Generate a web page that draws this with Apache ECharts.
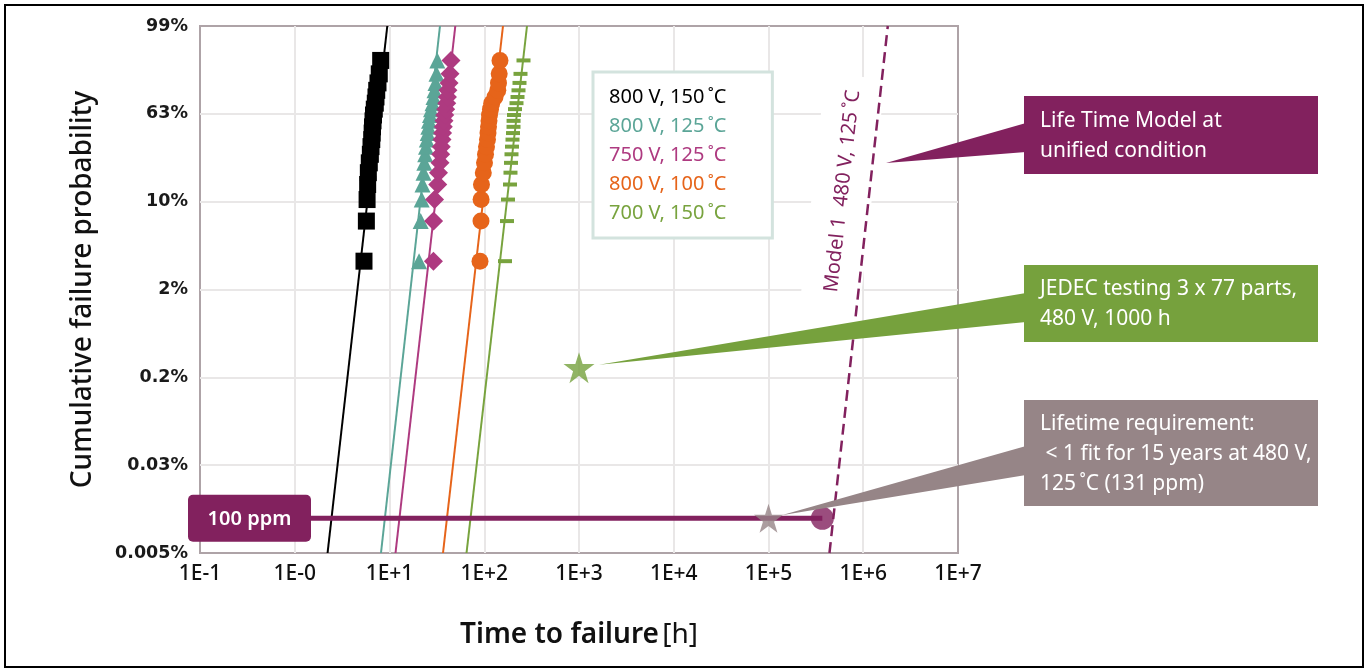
<!DOCTYPE html>
<html>
<head>
<meta charset="utf-8">
<script src="https://cdn.jsdelivr.net/npm/echarts@6.0.0/dist/echarts.min.js"></script>
<style>
  html, body { margin: 0; padding: 0; background: #fff; }
  #chart { width: 1368px; height: 671px; }
</style>
</head>
<body>
<div id="chart"></div>
<script>
// Weibull probability plot.
// x: time to failure in hours (log10 scale); y: Weibull ordinate ln(-ln(1 - F)).
const yTickLabels = ['0.005%', '0.03%', '0.2%', '2%', '10%', '63%', '99%']; // y = -10, -8, ... 2
const xTickLabels = ['1E-1', '1E-0', '1E+1', '1E+2', '1E+3', '1E+4', '1E+5', '1E+6', '1E+7'];

const cellNames = ['800 V, 150\u2009˚C', '800 V, 125\u2009˚C', '750 V, 125\u2009˚C', '800 V, 100\u2009˚C', '700 V, 150\u2009˚C'];
const cellColors = ['#000000', '#5ba597', '#ae3a80', '#e6641a', '#78a33e'];

// Median-rank ordinate of failures 1..20 in each test cell
const rankY = [-3.355, -2.442, -1.952, -1.609, -1.340, -1.116, -0.921, -0.747, -0.587, -0.438,
               -0.296, -0.160, -0.026, 0.107, 0.243, 0.384, 0.535, 0.704, 0.910, 1.216];

// Failure times (h), ordered by rank
const t800v150 = [5.38, 5.70, 5.80, 5.88, 5.98, 6.12, 6.28, 6.38, 6.50, 6.56,
                  6.62, 6.70, 6.78, 6.91, 7.08, 7.20, 7.33, 7.56, 7.80, 8.07];
const t800v125 = [20.5, 21.35, 21.87, 22.30, 22.85, 23.30, 23.81, 24.28, 24.75, 25.30,
                  25.67, 26.11, 26.76, 27.42, 28.44, 29.14, 29.86, 30.59, 31.33, 31.96];
const t750v125 = [29.1, 29.2, 29.9, 32.3, 32.9, 34.1, 34.7, 35.2, 35.8, 36.3,
                  37.0, 37.6, 38.3, 39.2, 40.2, 40.9, 41.4, 42.5, 43.5, 44.6];
const t800v100 = [90.2, 92.4, 92.6, 93.5, 97.7, 100.6, 103.1, 105.6, 108.2, 109.5,
                  110.9, 112.2, 113.6, 116.4, 119.9, 129.9, 139.0, 141.4, 143.8, 146.6];
const t700v150 = [165.6, 173.8, 178.1, 187.0, 189.2, 191.6, 193.9, 196.3, 198.7, 201.2,
                  203.6, 203.9, 206.1, 211.1, 218.9, 224.4, 229.9, 235.5, 241.3, 259.6];
const cellTimes = [t800v150, t800v125, t750v125, t800v100, t700v150];

// Weibull fit lines: time at the bottom (y = -10) and top (y = 2) of the plot
const fitTimeLow  = [2.22, 8.13, 11.57, 36.7, 65.0];
const fitTimeHigh = [9.48, 34.1, 49.5, 157.7, 282.6];

// Life time model at 480 V, 125 °C
const modelTimes = [440000, 1816000];
const modelY = [-10, 2];

// 100 ppm level and reference points
const ppmLevel = 100;
const levelY = Math.log(-Math.log(1 - ppmLevel * 1e-6));
const levelStartTime = 0.1;
const modelCrossTime = 370000;
const requirementTime = 100000;
const jedecTime = 1000;
const jedecY = -5.78;

const FONT = '"Noto Sans", sans-serif';
const PURPLE = '#82215e';
const GREEN = '#76a13d';
const GREY = '#968587';

const cellSymbols = [
  { symbol: 'rect', size: 17 },
  { symbol: 'triangle', size: 16 },
  { symbol: 'path://M0,-1L1,0L0,1L-1,0Z', size: 19 },
  { symbol: 'circle', size: 17 },
  { symbol: 'rect', size: [14, 4] }
];

const STAR = 'path://M50,0L61.2,34.5L97.6,34.5L68.2,55.9L79.4,90.5L50,69.1L20.6,90.5L31.8,55.9L2.4,34.5L38.8,34.5Z';

const series = [];
cellNames.forEach((name, i) => {
  series.push({
    name: name + ' fit',
    type: 'line',
    data: [[fitTimeLow[i], -10], [fitTimeHigh[i], 2]],
    symbol: 'none',
    lineStyle: { color: cellColors[i], width: 2 },
    silent: true,
    z: 3
  });
});
cellNames.forEach((name, i) => {
  series.push({
    name: name,
    type: 'scatter',
    data: cellTimes[i].map((t, k) => [t, rankY[k]]),
    symbol: cellSymbols[i].symbol,
    symbolSize: cellSymbols[i].size,
    itemStyle: { color: cellColors[i], opacity: 1 },
    z: 4
  });
});
series.push({
  name: 'Model 1',
  type: 'line',
  data: modelTimes.map((t, k) => [t, modelY[k]]),
  symbol: 'none',
  lineStyle: { color: PURPLE, width: 2.5, type: [11, 6] },
  z: 3
});
series.push({
  name: '100 ppm',
  type: 'line',
  data: [[levelStartTime, levelY], [modelCrossTime, levelY]],
  symbol: 'none',
  lineStyle: { color: PURPLE, width: 5 },
  z: 5
});
series.push({
  name: 'model crossing',
  type: 'scatter',
  data: [[modelCrossTime, levelY]],
  symbol: 'circle',
  symbolSize: 23,
  itemStyle: { color: PURPLE },
  z: 6
});
series.push({
  name: 'requirement',
  type: 'scatter',
  data: [[requirementTime, levelY]],
  symbol: STAR,
  symbolSize: 29,
  itemStyle: { color: GREY },
  z: 7
});
series.push({
  name: 'JEDEC',
  type: 'scatter',
  data: [[jedecTime, jedecY]],
  symbol: STAR,
  symbolSize: 31,
  itemStyle: { color: GREEN },
  z: 7
});

const chart = echarts.init(document.getElementById('chart'), null, { renderer: 'canvas' });

chart.setOption({
  animation: false,
  backgroundColor: '#ffffff',
  grid: {
    left: 200, right: 410, top: 26, bottom: 118,
    show: true, borderColor: '#aea3a7', borderWidth: 2, backgroundColor: 'transparent'
  },
  legend: {
    data: cellNames.map((n, i) => ({ name: n, textStyle: { color: cellColors[i] } })),
    orient: 'vertical',
    left: 593, top: 72,
    itemWidth: 0, itemHeight: 0, itemGap: 9,
    padding: [15, 46, 15, 11],
    borderColor: '#d3e3de', borderWidth: 3,
    backgroundColor: '#ffffff',
    selectedMode: false,
    itemStyle: { opacity: 0 },
    textStyle: { fontFamily: FONT, fontSize: 20, lineHeight: 20 }
  },
  xAxis: {
    type: 'log', logBase: 10, min: 0.1, max: 1e7,
    name: '{a|Time to failure} {b|[h]}',
    nameLocation: 'middle', nameGap: 68,
    nameTextStyle: {
      rich: {
        a: { fontFamily: FONT, fontSize: 28, fontWeight: 600, color: '#111' },
        b: { fontFamily: FONT, fontSize: 28, fontWeight: 400, color: '#111' }
      }
    },
    axisLine: { show: false },
    axisTick: { show: false },
    axisLabel: {
      margin: 11, fontFamily: FONT, fontSize: 21, fontWeight: 500, color: '#111',
      showMinLabel: true, showMaxLabel: true, hideOverlap: false,
      formatter: v => xTickLabels[Math.round(Math.log10(v)) + 1]
    },
    splitLine: { show: true, showMinLine: false, showMaxLine: false, lineStyle: { color: '#e9e7e7', width: 2 } },
    minorTick: { show: false }
  },
  yAxis: {
    type: 'value', min: -10, max: 2, interval: 2,
    name: 'Cumulative failure probability',
    nameLocation: 'middle', nameGap: 103, nameRotate: 90,
    nameTextStyle: { fontFamily: FONT, fontSize: 28, fontWeight: 500, color: '#111' },
    axisLine: { show: false },
    axisTick: { show: false },
    axisLabel: {
      margin: 12, fontFamily: '"DejaVu Sans", sans-serif', fontSize: 17.5, fontWeight: 'bold', color: '#1a1a1a',
      showMinLabel: true, showMaxLabel: true, hideOverlap: false,
      formatter: v => yTickLabels[Math.round((v + 10) / 2)]
    },
    splitLine: { show: true, showMinLine: false, showMaxLine: false, lineStyle: { color: '#e9e7e7', width: 2 } }
  },
  series: series
});

// Annotations placed relative to the plotted data
const px = p => chart.convertToPixel({ gridIndex: 0 }, p);

const modelLo = px([modelTimes[0], modelY[0]]);
const modelHi = px([modelTimes[1], modelY[1]]);
const modelAngle = Math.atan2(modelLo[1] - modelHi[1], modelHi[0] - modelLo[0]);
// point on the model line where its label sits
const labelY = -1.76;
const frac = (labelY - modelY[0]) / (modelY[1] - modelY[0]);
const labelT = Math.pow(10, Math.log10(modelTimes[0]) + frac * (Math.log10(modelTimes[1]) - Math.log10(modelTimes[0])));
const labelPt = px([labelT, labelY]);

const levelPt = px([levelStartTime, levelY]);
const jedecPt = px([jedecTime, jedecY]);
const reqPt = px([requirementTime, levelY]);
const modelTip = px([1.74e6, -1.12]);

const BOX_X = 1024, BOX_W = 294;

function callout(color, top, bottom, tip, baseTop, baseBottom, text) {
  return [
    {
      type: 'polygon', z: 20, silent: true,
      shape: { points: [tip, [BOX_X + 2, baseTop], [BOX_X + 2, baseBottom]] },
      style: { fill: color }
    },
    {
      type: 'rect', z: 20, silent: true,
      shape: { x: BOX_X, y: top, width: BOX_W, height: bottom - top },
      style: { fill: color }
    },
    {
      type: 'text', z: 21, silent: true,
      x: BOX_X + 16, y: (top + bottom) / 2 + 1,
      style: {
        text: text, fill: '#ffffff', fontFamily: FONT, fontSize: 21,
        lineHeight: 30, align: 'left', verticalAlign: 'middle'
      }
    }
  ];
}

chart.setOption({
  graphic: [
    // outer frame
    {
      type: 'rect', z: 30, silent: true,
      shape: { x: 5, y: 5, width: 1358, height: 662 },
      style: { fill: 'none', stroke: '#000000', lineWidth: 2 }
    },
    // rotated model label on a white band
    {
      type: 'text', z: 1, silent: true,
      x: labelPt[0] - 27, y: labelPt[1],
      rotation: modelAngle,
      style: {
        text: 'Model 1  480 V, 125\u2009˚C', fill: PURPLE, fontFamily: FONT, fontSize: 20,
        align: 'center', verticalAlign: 'middle',
        backgroundColor: '#ffffff', padding: [14, 14, 26, 14]
      }
    },
    // 100 ppm tag
    {
      type: 'rect', z: 20, silent: true,
      shape: { x: 188, y: levelPt[1] - 23.5, width: 123, height: 47, r: 5 },
      style: { fill: PURPLE }
    },
    {
      type: 'text', z: 21, silent: true,
      x: 249.5, y: levelPt[1] + 1,
      style: {
        text: ppmLevel + ' ppm', fill: '#ffffff', fontFamily: FONT, fontSize: 20, fontWeight: 600,
        align: 'center', verticalAlign: 'middle'
      }
    },
    ...callout(PURPLE, 96, 174, [modelTip[0], modelTip[1]], 123, 152,
      'Life Time Model at\nunified condition'),
    ...callout(GREEN, 265, 342, [jedecPt[0] + 20, jedecPt[1] - 3], 293, 322,
      'JEDEC testing 3 x 77 parts,\n480 V, 1000 h'),
    ...callout(GREY, 400, 506, [reqPt[0] + 13, reqPt[1] - 3], 446, 475,
      'Lifetime requirement:\n < 1 fit for 15 years at 480 V,\n125\u2009˚C (131 ppm)')
  ]
});
</script>
</body>
</html>
